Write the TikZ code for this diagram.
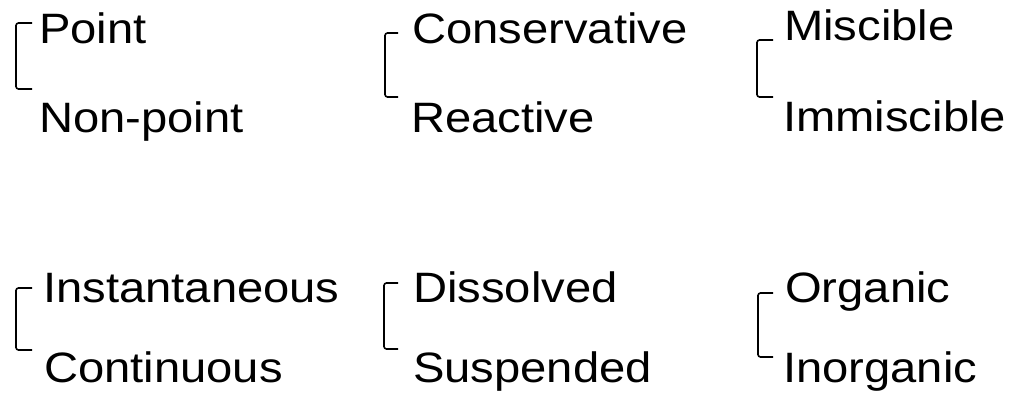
\documentclass[tikz,border=0pt]{standalone}
\usepackage{fontspec}
\setmainfont{Liberation Sans}
\newcommand\wide[1]{\scalebox{1.11}[1]{#1}}
\begin{document}
\begin{tikzpicture}[x=1pt,y=-1pt,
  lbl/.style={anchor=base west,inner sep=0pt,font=\fontsize{42.5}{50}\selectfont},
  brk/.style={draw=black,line width=1.6pt,rounded corners=2.5pt}]
\useasboundingbox (0,0) rectangle (1015,399);
% Column 1
\node[lbl] (point) at (39,43) {\wide{Point}};
\node[lbl] (nonpoint) at (39,132) {\wide{Non-point}};
\node[lbl] (inst) at (43,302) {\wide{Instantaneous}};
\node[lbl] (cont) at (44,382) {\wide{Continuous}};
% Column 2
\node[lbl] (cons) at (412,43) {\wide{Conservative}};
\node[lbl] (react) at (411,132) {\wide{Reactive}};
\node[lbl] (diss) at (413,302) {\wide{Dissolved}};
\node[lbl] (susp) at (413,382) {\wide{Suspended}};
% Column 3
\node[lbl] (misc) at (784,40) {\wide{Miscible}};
\node[lbl] (immisc) at (783,131) {\wide{Immiscible}};
\node[lbl] (org) at (785,302) {\wide{Organic}};
\node[lbl] (inorg) at (783,382) {\wide{Inorganic}};
% bracket end points
\coordinate (b1t) at (32,23);  \coordinate (b1b) at (32,89);
\coordinate (b2t) at (398,33); \coordinate (b2b) at (398,97);
\coordinate (b3t) at (773,40); \coordinate (b3b) at (773,97);
\coordinate (b4t) at (32,288); \coordinate (b4b) at (32,350);
\coordinate (b5t) at (398,283);\coordinate (b5b) at (398,349);
\coordinate (b6t) at (773,293);\coordinate (b6b) at (773,357);
\draw[brk] (b1t) -- ++(-16,0) |- (b1b);
\draw[brk] (b2t) -- ++(-13,0) |- (b2b);
\draw[brk] (b3t) -- ++(-16,0) |- (b3b);
\draw[brk] (b4t) -- ++(-16,0) |- (b4b);
\draw[brk] (b5t) -- ++(-14,0) |- (b5b);
\draw[brk] (b6t) -- ++(-15,0) |- (b6b);
\end{tikzpicture}
\end{document}
